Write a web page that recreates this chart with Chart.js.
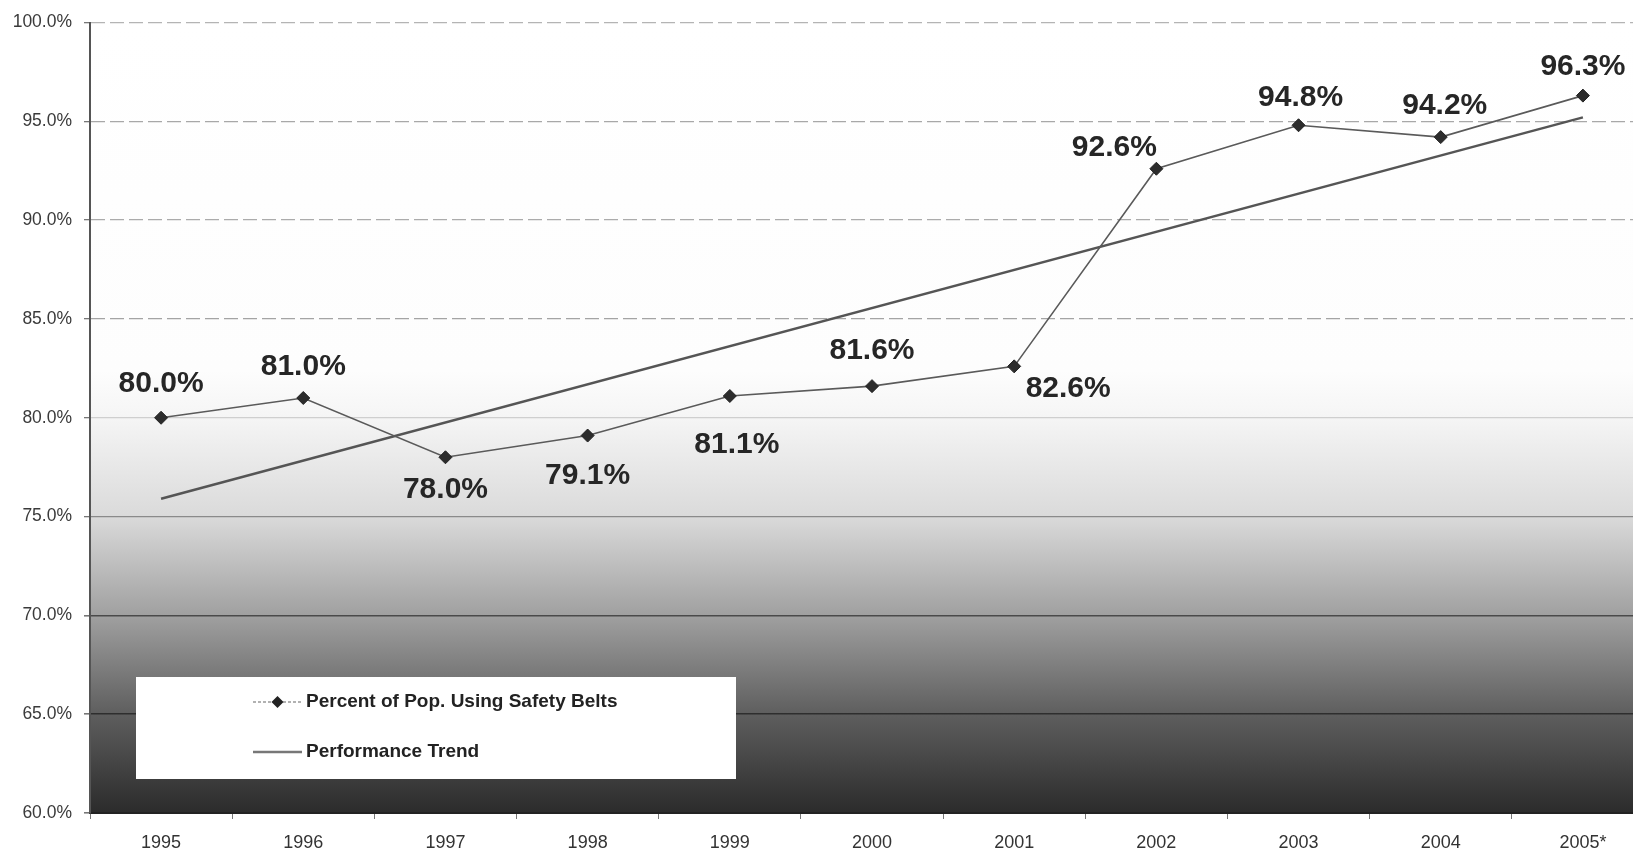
<!DOCTYPE html>
<html lang="en">
<head>
  <meta charset="UTF-8" />
  <title>Safety Belt Use</title>
  <script src="https://cdn.jsdelivr.net/npm/chart.js"></script>
  <style>
    html, body {
      margin: 0;
      padding: 0;
      background: #fff;
      overflow: hidden;
    }
    #beltChart {
      display: block;
    }
  </style>
</head>
<body>
  <canvas id="beltChart" width="1680" height="854"></canvas>

  <script>
    // chart data
    const years = ['1995', '1996', '1997', '1998', '1999', '2000', '2001', '2002', '2003', '2004', '2005*'];
    const beltUse = [80.0, 81.0, 78.0, 79.1, 81.1, 81.6, 82.6, 92.6, 94.8, 94.2, 96.3];
    const trendEnds = [75.9, null, null, null, null, null, null, null, null, null, 95.2];
    const seriesNames = ['Percent of Pop. Using Safety Belts', 'Performance Trend'];

    // where each value label sits relative to its point (dx, dy)
    const labelOffsets = [[0, -34], [0, -31], [0, 32], [0, 40], [7, 49], [0, -35], [54, 22], [-42, -21], [2, -28], [4, -31], [0, -29]];

    const gridColors = { 100: '#b4b4b4', 95: '#a8a8a8', 90: '#ababab', 85: '#a4a4a4', 80: '#cfcfcf', 75: '#8a8a8a', 70: '#4a4a4a', 65: '#2e2e2e', 60: '#222' };

    const shadedBackground = {
      id: 'shadedBackground',
      beforeDraw(chart) {
        const { ctx, chartArea: a } = chart;
        const g = ctx.createLinearGradient(0, a.top, 0, a.bottom);
        g.addColorStop(0, '#ffffff');
        g.addColorStop(0.44, '#fdfdfd');
        g.addColorStop(0.5, '#f5f5f5');
        g.addColorStop(0.625, '#dadada');
        g.addColorStop(0.75, '#a0a0a0');
        g.addColorStop(0.875, '#5e5e5e');
        g.addColorStop(1, '#2b2b2b');
        ctx.save();
        ctx.fillStyle = g;
        ctx.fillRect(a.left, a.top, a.right - a.left, a.bottom - a.top);
        ctx.restore();
      }
    };

    const valueLabels = {
      id: 'valueLabels',
      afterDatasetsDraw(chart) {
        const { ctx } = chart;
        const meta = chart.getDatasetMeta(0);
        ctx.save();
        ctx.font = 'bold 30px "Liberation Sans", Arial, sans-serif';
        ctx.fillStyle = '#262626';
        ctx.textAlign = 'center';
        ctx.textBaseline = 'middle';
        meta.data.forEach((pt, i) => {
          const [dx, dy] = labelOffsets[i];
          ctx.fillText(beltUse[i].toFixed(1) + '%', pt.x + dx, pt.y + dy);
        });
        ctx.restore();
      }
    };

    const boxLegend = {
      id: 'boxLegend',
      afterDraw(chart) {
        const { ctx, chartArea: a } = chart;
        const bx = a.left + 46, by = a.bottom - 136, bw = 600, bh = 102;
        ctx.save();
        ctx.fillStyle = '#fff';
        ctx.fillRect(bx, by, bw, bh);

        const x0 = bx + 117, x1 = bx + 166;
        const rows = [by + 25, by + 75];

        // series 1 sample: thin dashed line with a diamond
        ctx.strokeStyle = '#666';
        ctx.lineWidth = 1.2;
        ctx.setLineDash([3, 2]);
        ctx.beginPath();
        ctx.moveTo(x0, rows[0]);
        ctx.lineTo(x1, rows[0]);
        ctx.stroke();
        ctx.setLineDash([]);
        const cx = (x0 + x1) / 2;
        ctx.fillStyle = '#222';
        ctx.beginPath();
        ctx.moveTo(cx, rows[0] - 6);
        ctx.lineTo(cx + 6, rows[0]);
        ctx.lineTo(cx, rows[0] + 6);
        ctx.lineTo(cx - 6, rows[0]);
        ctx.closePath();
        ctx.fill();

        // series 2 sample
        ctx.strokeStyle = '#777';
        ctx.lineWidth = 2.5;
        ctx.beginPath();
        ctx.moveTo(x0, rows[1]);
        ctx.lineTo(x1, rows[1]);
        ctx.stroke();

        ctx.font = 'bold 19px "Liberation Sans", Arial, sans-serif';
        ctx.fillStyle = '#222';
        ctx.textAlign = 'left';
        ctx.textBaseline = 'middle';
        ctx.fillText(seriesNames[0], x1 + 4, rows[0]);
        ctx.fillText(seriesNames[1], x1 + 4, rows[1]);
        ctx.restore();
      }
    };

    new Chart(document.getElementById('beltChart'), {
      type: 'line',
      data: {
        labels: years,
        datasets: [
          {
            label: seriesNames[0],
            data: beltUse,
            borderColor: '#5a5a5a',
            borderWidth: 1.6,
            pointStyle: 'rectRot',
            pointRadius: 6.5,
            pointBackgroundColor: '#2c2c2c',
            pointBorderColor: '#222',
            pointBorderWidth: 1,
            tension: 0
          },
          {
            label: seriesNames[1],
            data: trendEnds,
            borderColor: '#555',
            borderWidth: 2.5,
            pointRadius: 0,
            spanGaps: true,
            tension: 0
          }
        ]
      },
      options: {
        responsive: false,
        animation: false,
        layout: { padding: { top: 22, right: 26, left: 0, bottom: 0 } },
        plugins: {
          legend: { display: false },
          tooltip: { enabled: false }
        },
        scales: {
          x: {
            offset: true,
            afterFit(scale) { scale.height = 41; },
            grid: {
              offset: true,
              drawOnChartArea: false,
              drawTicks: true,
              tickLength: 6,
              tickColor: '#777'
            },
            border: { display: true, color: '#222', width: 2 },
            ticks: {
              color: '#333',
              padding: 13,
              font: { family: '"Liberation Sans", Arial, sans-serif', size: 18 }
            }
          },
          y: {
            min: 60,
            max: 100,
            afterFit(scale) { scale.width = 90; },
            grid: {
              color: ctx => gridColors[ctx.tick ? ctx.tick.value : 60] || '#aaa',
              lineWidth: ctx => (ctx.tick && ctx.tick.value <= 70 ? 1.6 : 1.3),
              drawTicks: true,
              tickLength: 6,
              tickColor: '#777'
            },
            border: {
              display: true,
              color: '#555',
              width: 2,
              dash: ctx => (ctx.tick && ctx.tick.value >= 85 ? [14, 5] : [])
            },
            ticks: {
              stepSize: 5,
              padding: 12,
              color: '#3a3a3a',
              font: { family: '"Liberation Sans", Arial, sans-serif', size: 17.5 },
              callback: v => v.toFixed(1) + '%'
            }
          }
        }
      },
      plugins: [shadedBackground, valueLabels, boxLegend]
    });
  </script>
</body>
</html>
